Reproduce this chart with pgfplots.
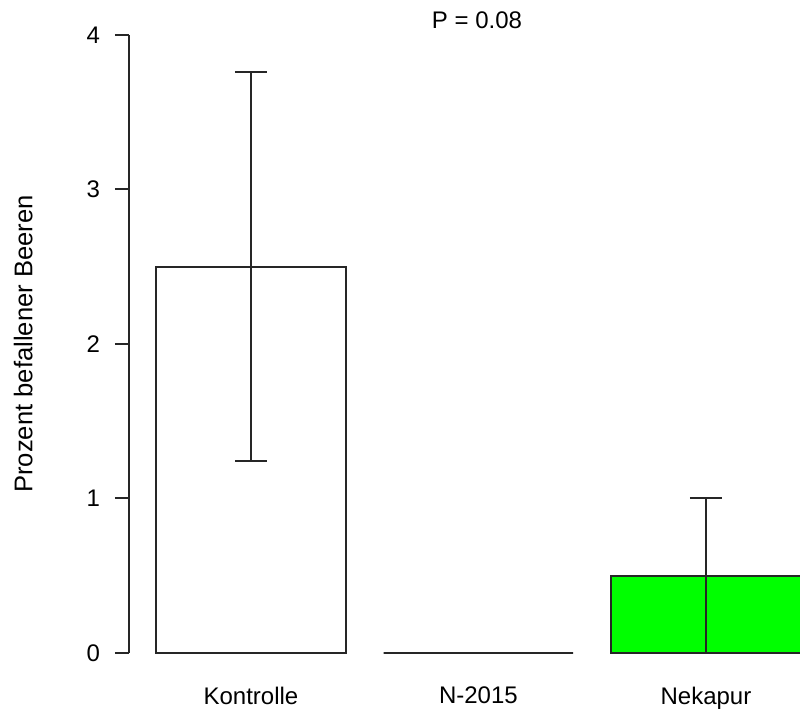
\documentclass[border=0pt]{standalone}
\usepackage{pgfplots}
\pgfplotsset{compat=1.18}
\usepackage{fontspec}
\setmainfont{Liberation Sans}
\definecolor{rgreen}{RGB}{0,255,0}
\begin{document}
\begin{tikzpicture}
\useasboundingbox (-64.5pt,-31pt) rectangle (335.5pt,326.5pt);
\clip (-64.5pt,-31pt) rectangle (335.5pt,326.5pt);
\begin{axis}[
  at={(0,0)}, anchor=south west,
  scale only axis,
  width=347.96pt, height=309pt,
  xmin=-0.536, xmax=2.523,
  ymin=0, ymax=4,
  axis y line*=left,
  axis x line*=bottom,
  x axis line style={draw=none},
  xtick={0,1,2},
  xticklabels={Kontrolle,N-2015,Nekapur},
  xtick style={draw=none},
  xticklabel style={yshift=-6.5pt},
  ytick={0,1,2,3,4},
  ytick align=outside,
  major tick length=7pt,
  y axis line style={line width=1pt, black!85},
  ytick style={line width=1pt, black!85},
  yticklabel style={xshift=-4pt},
  every tick label/.append style={font=\fontsize{12}{14}\selectfont},
  /pgf/number format/assume math mode=true,
  ylabel={Prozent befallener Beeren},
  ylabel style={at={(axis description cs:-0.152,0.5)}, anchor=center, font=\fontsize{12.8}{15}\selectfont},
  title={P = 0.08},
  title style={at={(axis description cs:0.5,1)}, anchor=center, yshift=1.5pt, font=\fontsize{12}{14}\selectfont},
  clip=false,
  ybar, bar width=0.8333, bar shift=0pt,
]
\addplot[ybar, bar shift=0pt, draw=black!85, line width=1pt, fill=white,
  error bars/.cd, y dir=both, y explicit,
  error bar style={line width=1pt, black!85},
  error mark options={mark size=8pt, line width=1pt, black!85, rotate=90}]
  coordinates {(0,2.5) +- (0,1.26)};
\addplot[ybar, bar shift=0pt, draw=black!85, line width=1pt, fill=white]
  coordinates {(1,0)};
\addplot[ybar, bar shift=0pt, draw=black!85, line width=1pt, fill=rgreen,
  error bars/.cd, y dir=both, y explicit,
  error bar style={line width=1pt, black!85},
  error mark options={mark size=8pt, line width=1pt, black!85, rotate=90}]
  coordinates {(2,0.5) +- (0,0.5)};
\end{axis}
\end{tikzpicture}
\end{document}
